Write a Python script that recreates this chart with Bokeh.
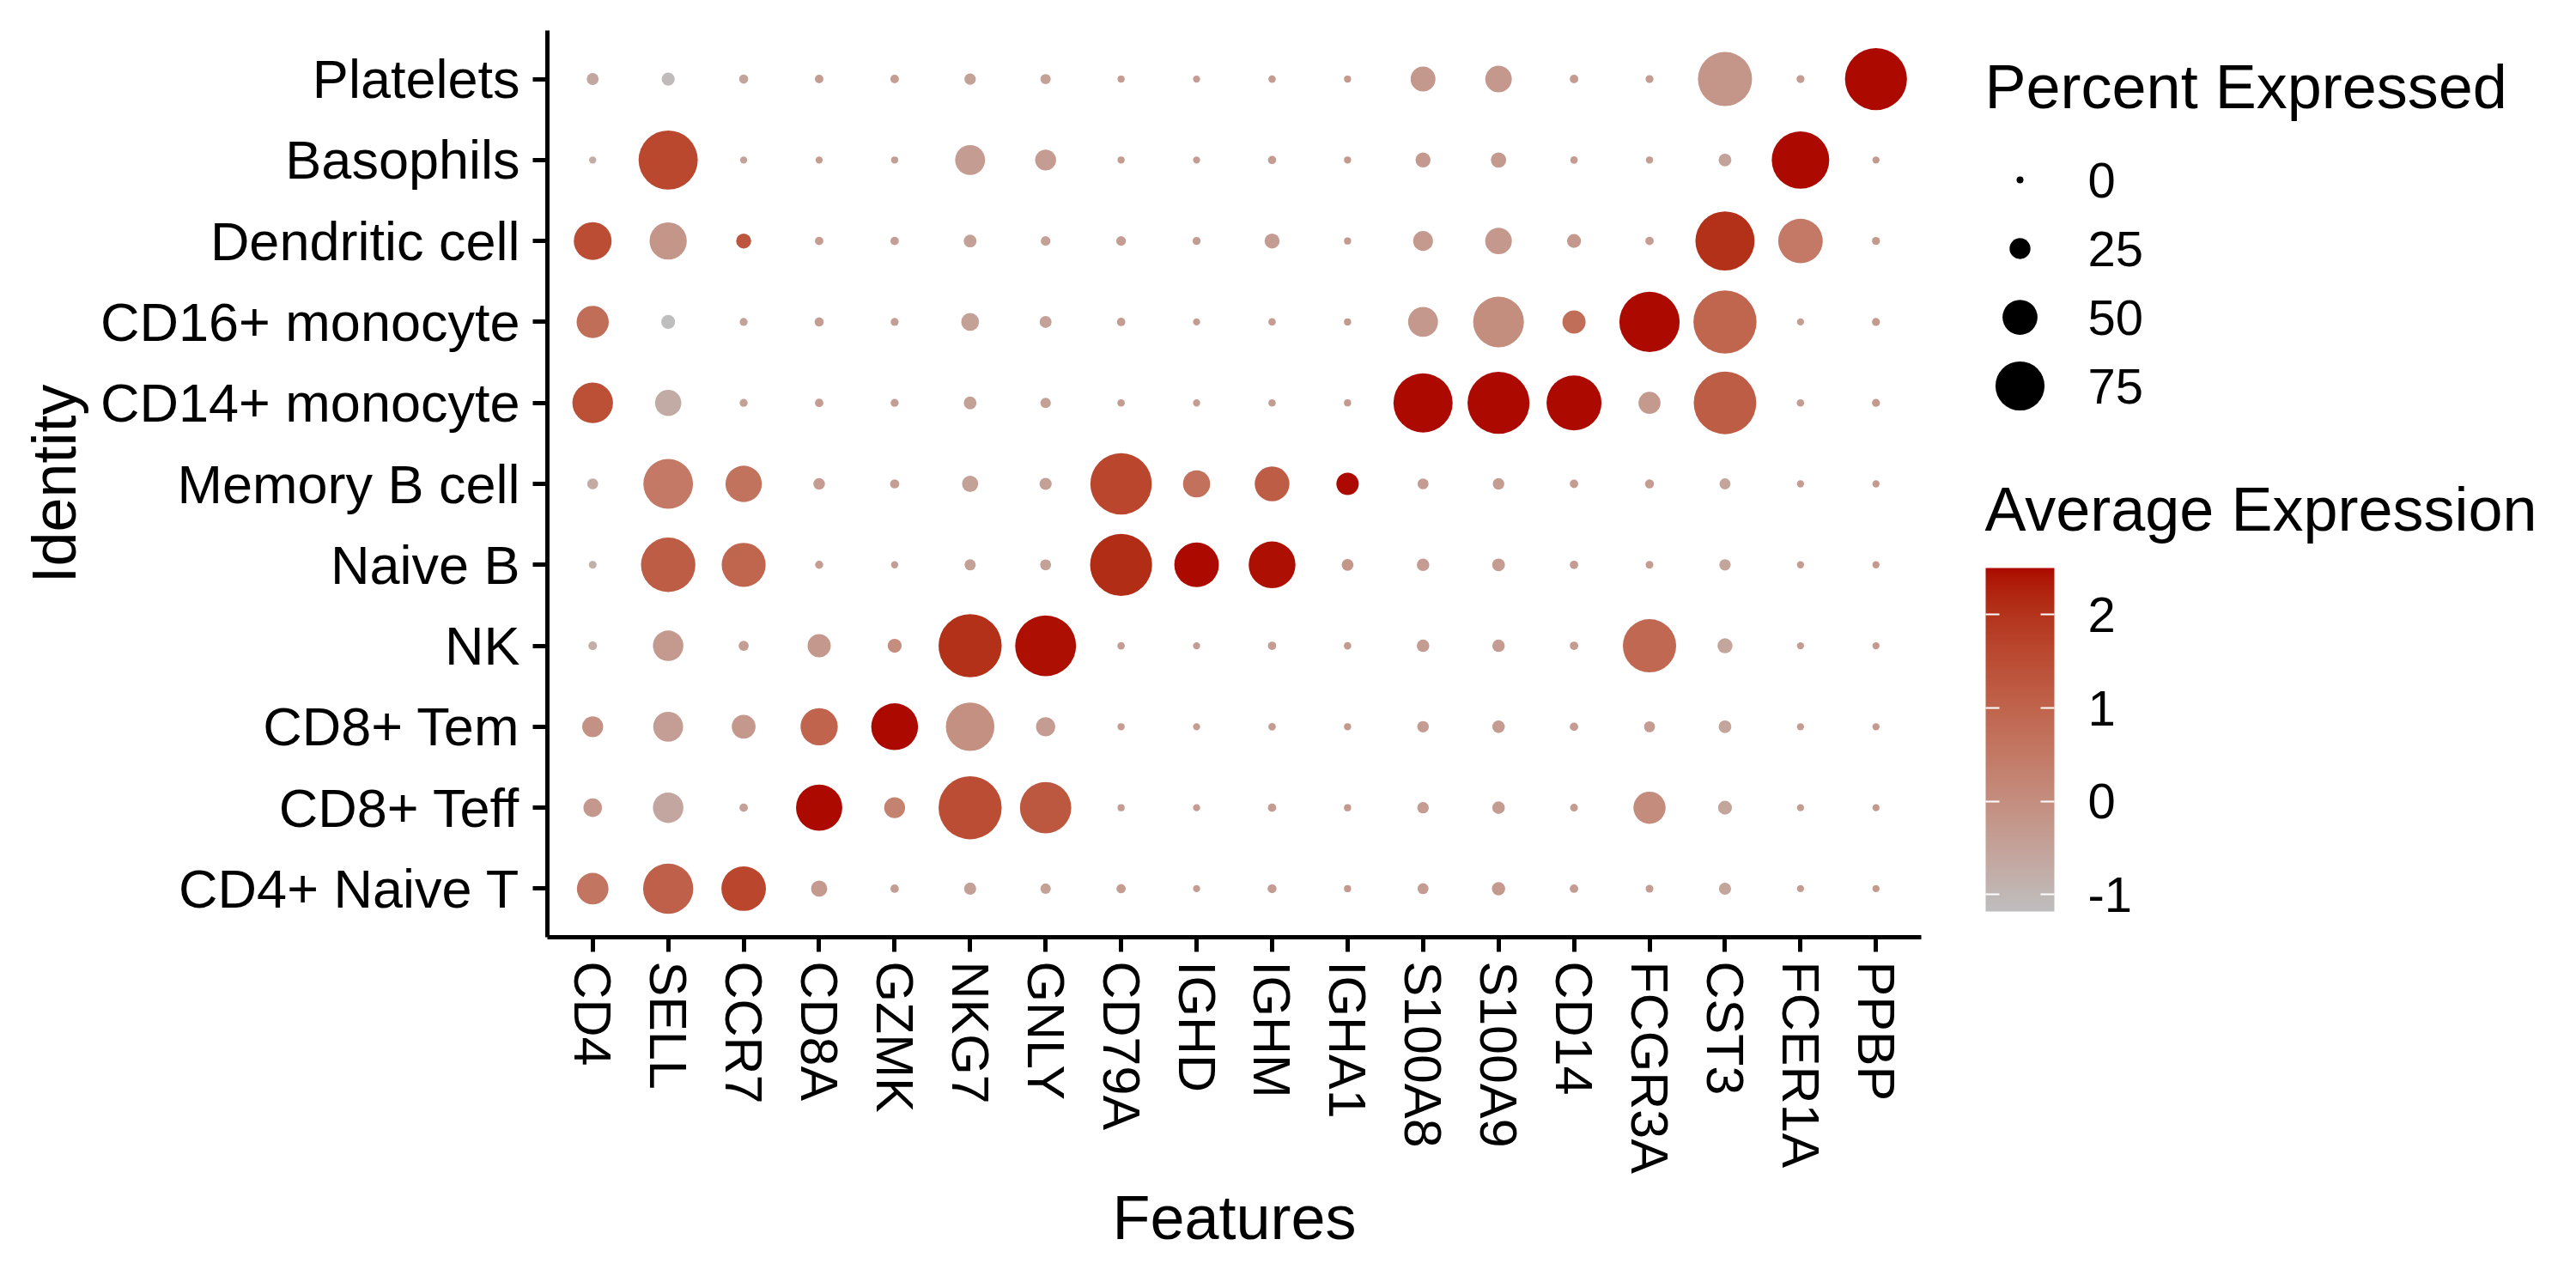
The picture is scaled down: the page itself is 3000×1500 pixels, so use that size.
from bokeh.plotting import figure
from bokeh.models import (FactorRange, Range1d, LinearColorMapper, ColorBar, FixedTicker,
                          LinearInterpolator, ColumnDataSource)
from bokeh.layouts import row
from bokeh.core.properties import value
from bokeh.embed import file_html
from bokeh.resources import INLINE

# ---------------- data ----------------
genes = ["CD4", "SELL", "CCR7", "CD8A", "GZMK", "NKG7", "GNLY", "CD79A", "IGHD", "IGHM",
         "IGHA1", "S100A8", "S100A9", "CD14", "FCGR3A", "CST3", "FCER1A", "PPBP"]

# bottom -> top
idents = ["CD4+ Naive T", "CD8+ Teff", "CD8+ Tem", "NK", "Naive B", "Memory B cell",
          "CD14+ monocyte", "CD16+ monocyte", "Dendritic cell", "Basophils", "Platelets"]

# Percent expressed, one list per identity (gene order as above)
pct_cd4_naive_t = [44, 77, 67, 16.6, 2.7, 9.4, 6.3, 4.2, 0.5, 3.7, 0.5, 7.3, 11.4, 2.7, 1.6, 9.4, 0.5, 0.5]
pct_cd8_teff = [20.7, 42, 2.7, 70, 25, 100, 79, 0.5, 0.5, 2.7, 0.5, 8.3, 10, 1.6, 45, 12.5, 0.5, 0.5]
pct_cd8_tem = [25, 41, 30, 54, 71, 74, 22, 0.5, 0.5, 1, 0.5, 8.3, 10, 2.7, 7.3, 10.5, 0.5, 0.5]
pct_nk = [3.2, 42, 5.8, 29, 12.5, 100, 96, 1, 0.5, 2.7, 1, 10, 10, 2.7, 82.5, 14.5, 0.5, 0.5]
pct_naive_b = [1.6, 84.5, 66, 2.2, 0.6, 7.8, 7.3, 98, 67, 71, 8.8, 10, 10.5, 2.7, 1.6, 8, 0.5, 0.5]
pct_memory_b = [7.3, 76, 52.5, 8.3, 4.2, 16.5, 9.4, 97, 36, 49.5, 27.5, 7.3, 8.3, 2.7, 3.7, 7.3, 0.5, 0.5]
pct_cd14_mono = [60, 34.5, 2, 2.7, 2, 10.5, 6.3, 1, 0.5, 1, 0.5, 93, 98, 85.5, 27, 99, 1, 2]
pct_cd16_mono = [45, 12.5, 2, 4, 2, 19.5, 9, 2.7, 0.5, 1, 0.5, 41, 78, 29, 95, 100, 0.5, 2]
pct_dendritic = [55, 54, 14.5, 2.7, 2.7, 10.5, 5, 5, 2, 14.5, 0.5, 23, 35, 12.5, 2.7, 93, 67, 2]
pct_basophils = [0.5, 93, 0.5, 0.5, 0.5, 41, 25, 0.5, 0.5, 2.5, 0.5, 14.5, 15, 1, 0.5, 10.5, 90, 0.5]
pct_platelets = [9, 11, 4, 3, 3, 8, 6, 0.5, 0.5, 1, 0.5, 32, 35, 3, 2, 84, 2, 98]

# Average (scaled) expression, one list per identity
avg_cd4_naive_t = [0.6, 1.05, 1.65, -0.3, -0.4, -0.45, -0.45, -0.35, -0.35, -0.35, -0.3, -0.35, -0.3, -0.35, -0.35, -0.55, -0.35, -0.3]
avg_cd8_teff = [-0.25, -0.6, -0.5, 2.5, 0.3, 1.5, 1.25, -0.35, -0.35, -0.35, -0.3, -0.35, -0.35, -0.35, 0.05, -0.55, -0.35, -0.3]
avg_cd8_tem = [-0.1, -0.4, -0.25, 1.0, 2.5, -0.05, -0.35, -0.35, -0.35, -0.35, -0.3, -0.35, -0.35, -0.35, -0.35, -0.55, -0.35, -0.3]
avg_nk = [-0.75, -0.3, -0.4, -0.25, 0.0, 2.05, 2.45, -0.35, -0.35, -0.35, -0.3, -0.35, -0.35, -0.35, 0.9, -0.55, -0.35, -0.3]
avg_naive_b = [-0.8, 1.15, 0.95, -0.35, -0.4, -0.45, -0.45, 2.1, 2.5, 2.45, -0.2, -0.35, -0.35, -0.35, -0.35, -0.55, -0.35, -0.3]
avg_memory_b = [-0.7, 0.5, 0.65, -0.35, -0.4, -0.45, -0.45, 1.65, 0.7, 1.15, 2.5, -0.35, -0.35, -0.35, -0.35, -0.55, -0.35, -0.3]
avg_cd14_mono = [1.45, -0.7, -0.45, -0.35, -0.4, -0.45, -0.45, -0.35, -0.35, -0.35, -0.3, 2.5, 2.5, 2.5, -0.3, 1.15, -0.35, -0.3]
avg_cd16_mono = [0.75, -1.18, -0.5, -0.35, -0.4, -0.45, -0.45, -0.35, -0.35, -0.35, -0.3, -0.25, 0.0, 0.75, 2.5, 0.95, -0.35, -0.3]
avg_dendritic = [1.5, -0.2, 1.3, -0.35, -0.4, -0.45, -0.45, -0.35, -0.35, -0.35, -0.3, -0.3, -0.25, -0.25, -0.35, 2.05, 0.5, -0.3]
avg_basophils = [-0.7, 1.6, -0.5, -0.35, -0.4, -0.35, -0.35, -0.35, -0.35, -0.35, -0.3, -0.3, -0.3, -0.35, -0.35, -0.5, 2.5, -0.3]
avg_platelets = [-0.6, -1.1, -0.55, -0.35, -0.4, -0.45, -0.45, -0.35, -0.35, -0.35, -0.3, -0.25, -0.25, -0.35, -0.35, -0.2, -0.35, 2.5]

size_breaks = [0, 25, 50, 75]
color_ticks = [-1, 0, 1, 2]

pct_rows = [pct_cd4_naive_t, pct_cd8_teff, pct_cd8_tem, pct_nk, pct_naive_b, pct_memory_b,
            pct_cd14_mono, pct_cd16_mono, pct_dendritic, pct_basophils, pct_platelets]
avg_rows = [avg_cd4_naive_t, avg_cd8_teff, avg_cd8_tem, avg_nk, avg_naive_b, avg_memory_b,
            avg_cd14_mono, avg_cd16_mono, avg_dendritic, avg_basophils, avg_platelets]

xs, ys, ps, avs = [], [], [], []
for ident, prow, arow in zip(idents, pct_rows, avg_rows):
    for g, pv, av in zip(genes, prow, arow):
        xs.append(g); ys.append(ident); ps.append(pv); avs.append(av)
src = ColumnDataSource(dict(gene=xs, ident=ys, pct=ps, avg=avs))

# ---------------- palette: grey -> dark red, interpolated in CIE Lab ----------------
LOW_COL, HIGH_COL = "#BEBEBE", "#AC0A00"

def _hex2rgb(h):
    h = h.lstrip("#")
    return [int(h[i:i + 2], 16) / 255 for i in (0, 2, 4)]

def _lin(c):
    return c / 12.92 if c <= 0.04045 else ((c + 0.055) / 1.055) ** 2.4

def _gam(c):
    c = max(0.0, min(1.0, c))
    return 12.92 * c if c <= 0.0031308 else 1.055 * c ** (1 / 2.4) - 0.055

WP = (0.95047, 1.0, 1.08883)
D = 6 / 29

def _f(t):
    return t ** (1 / 3) if t > D ** 3 else t / (3 * D * D) + 4 / 29

def _finv(t):
    return t ** 3 if t > D else 3 * D * D * (t - 4 / 29)

def to_lab(h):
    r, g, b = [_lin(c) for c in _hex2rgb(h)]
    X = 0.4124 * r + 0.3576 * g + 0.1805 * b
    Y = 0.2126 * r + 0.7152 * g + 0.0722 * b
    Z = 0.0193 * r + 0.1192 * g + 0.9505 * b
    fx, fy, fz = _f(X / WP[0]), _f(Y / WP[1]), _f(Z / WP[2])
    return (116 * fy - 16, 500 * (fx - fy), 200 * (fy - fz))

def from_lab(L, a, b):
    fy = (L + 16) / 116
    fx = fy + a / 500
    fz = fy - b / 200
    X, Y, Z = WP[0] * _finv(fx), WP[1] * _finv(fy), WP[2] * _finv(fz)
    r = 3.2406 * X - 1.5372 * Y - 0.4986 * Z
    g = -0.9689 * X + 1.8758 * Y + 0.0415 * Z
    bb = 0.0557 * X - 0.2040 * Y + 1.0570 * Z
    return "#%02x%02x%02x" % tuple(int(round(_gam(c) * 255)) for c in (r, g, bb))

l0, l1 = to_lab(LOW_COL), to_lab(HIGH_COL)
N = 256
palette = [from_lab(*[l0[k] + (l1[k] - l0[k]) * i / (N - 1) for k in range(3)]) for i in range(N)]

mapper = LinearColorMapper(palette=palette, low=min(avs), high=max(avs))
size_map = LinearInterpolator(x=[0, 100], y=[8, 73.5])

FONT = "Liberation Sans"

# shared vertical geometry (both panels have the same frame so the row aligns them)
TOP, FRAME_H, BOTTOM = 35, 1056, 401

# ---------------- main dot plot ----------------
p = figure(x_range=FactorRange(factors=genes, range_padding=0.1, range_padding_units="absolute"),
           y_range=FactorRange(factors=idents, range_padding=0.1, range_padding_units="absolute"),
           frame_width=1600, frame_height=FRAME_H,
           min_border_left=637, min_border_right=40, min_border_top=TOP, min_border_bottom=BOTTOM,
           output_backend="svg", toolbar_location=None, tools="")
p.outline_line_color = None
p.background_fill_color = "white"
p.border_fill_color = "white"
p.xgrid.visible = False
p.ygrid.visible = False

p.scatter(x="gene", y="ident", source=src, marker="circle",
          size={"field": "pct", "transform": size_map},
          fill_color={"field": "avg", "transform": mapper}, line_color=None)

for ax in (p.xaxis[0], p.yaxis[0]):
    ax.axis_line_width = 5
    ax.axis_line_color = "black"
    ax.major_tick_line_width = 5
    ax.major_tick_line_color = "black"
    ax.major_tick_out = 17
    ax.major_tick_in = 0
    ax.minor_tick_line_color = None
    ax.major_label_text_font = FONT
    ax.major_label_text_color = "black"
    ax.axis_label_text_font = FONT
    ax.axis_label_text_font_size = "72px"
    ax.axis_label_text_font_style = "normal"
    ax.axis_label_text_color = "black"

p.xaxis.major_label_text_font_size = "61px"
p.yaxis.major_label_text_font_size = "63px"
p.xaxis.axis_label = "Features"
p.yaxis.axis_label = "Identity"
p.xaxis.major_label_orientation = "vertical"
p.xaxis.major_label_standoff = 11
p.yaxis.major_label_standoff = 15
p.xaxis.axis_label_standoff = 8
p.yaxis.axis_label_standoff = 11

# ---------------- legends panel ----------------
LW = 715
q = figure(frame_width=LW, frame_height=FRAME_H, x_range=Range1d(0, LW), y_range=Range1d(0, FRAME_H),
           min_border_left=0, min_border_right=0, min_border_top=TOP, min_border_bottom=BOTTOM,
           output_backend="svg", toolbar_location=None, tools="")
q.axis.visible = False
q.grid.visible = False
q.outline_line_color = None
q.background_fill_color = "white"
q.border_fill_color = "white"

q.text(x=[34], y=[991], text=["Percent Expressed"], text_font=value(FONT),
       text_font_size=value("72px"), text_baseline="alphabetic", text_align="left", text_color="black")

leg_y = [882 - 80 * i for i in range(len(size_breaks))]
lsrc = ColumnDataSource(dict(x=[75] * len(size_breaks), y=leg_y, pct=size_breaks,
                             lab=[str(b) for b in size_breaks], lx=[154] * len(size_breaks)))
q.scatter(x="x", y="y", source=lsrc, marker="circle",
          size={"field": "pct", "transform": size_map}, fill_color="black", line_color=None)
q.text(x="lx", y="y", text="lab", source=lsrc, text_font=value(FONT), text_font_size=value("58px"),
       text_baseline="middle", text_align="left", text_color="black")

q.text(x=[34], y=[499], text=["Average Expression"], text_font=value(FONT),
       text_font_size=value("72px"), text_baseline="alphabetic", text_align="left", text_color="black")

# white ticks reaching in from both edges of the bar (16 px each, via a dash pattern)
cb = ColorBar(color_mapper=mapper, ticker=FixedTicker(ticks=color_ticks),
              major_label_overrides={-1: "-1"},
              orientation="vertical", width=80, height=400, location=(35, 30), padding=0,
              bar_line_color=None, border_line_color=None, background_fill_color=None,
              major_tick_line_color="white", major_tick_line_width=2,
              major_tick_line_dash="16 48",
              major_tick_in=80, major_tick_out=0, minor_tick_line_color=None,
              major_label_text_font=FONT, major_label_text_font_size="58px",
              major_label_text_color="black", label_standoff=39)
q.add_layout(cb, "center")

layout = row(p, q)
open("out.html", "w").write(file_html(layout, INLINE))
